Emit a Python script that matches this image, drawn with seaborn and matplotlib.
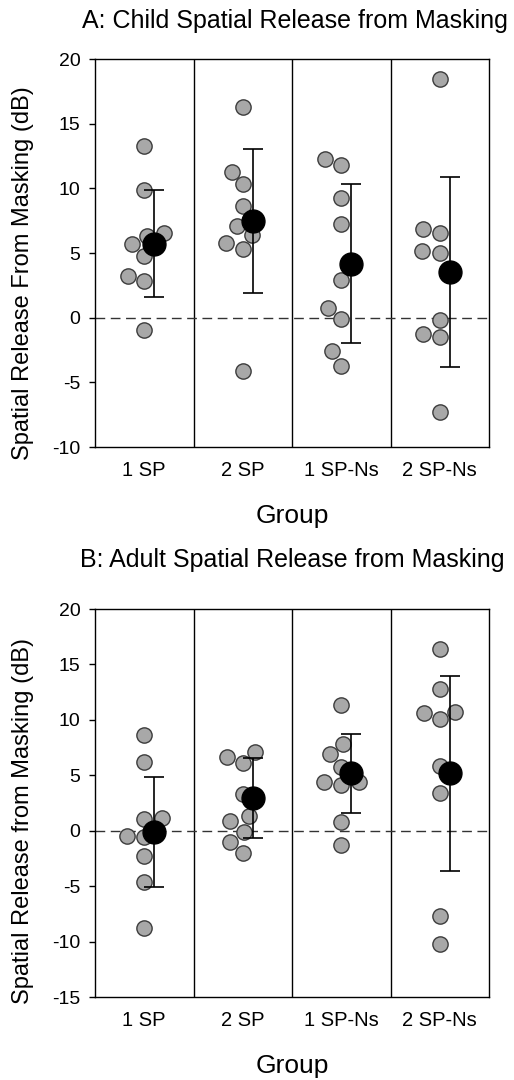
import numpy as np
import pandas as pd
import seaborn as sns
import matplotlib.pyplot as plt

groups = ['1 SP', '2 SP', '1 SP-Ns', '2 SP-Ns']

# Panel A: children, spatial release from masking (dB) per listener
child_1sp = [13.3, 9.9, 6.55, 6.3, 5.7, 4.8, 3.2, 2.8, -0.93]
child_2sp = [16.26, 11.3, 10.3, 8.6, 7.06, 6.4, 5.77, 5.3, -4.1]
child_1spns = [12.27, 11.83, 9.26, 7.24, 2.94, 0.75, -0.1, -2.6, -3.71]
child_2spns = [18.46, 6.88, 6.55, 5.18, 5.0, -0.15, -1.24, -1.52, -7.3]
child_mean = [5.7, 7.45, 4.18, 3.53]
child_sd = [4.14, 5.57, 6.12, 7.33]

# Panel B: adults
adult_1sp = [8.63, 6.22, 1.17, 1.1, -0.48, -0.54, -2.25, -4.6, -8.75]
adult_2sp = [7.13, 6.68, 6.08, 3.31, 1.33, 0.87, -0.09, -0.99, -1.98]
adult_1spns = [11.34, 7.82, 6.89, 5.77, 4.36, 4.36, 4.12, 0.81, -1.29]
adult_2spns = [16.36, 12.75, 10.64, 10.73, 10.05, 5.84, 3.43, -7.7, -10.25]
adult_mean = [-0.09, 2.92, 5.17, 5.17]
adult_sd = [4.96, 3.61, 3.57, 8.82]


def long_df(cols):
    rows = []
    for g, vals in zip(groups, cols):
        for v in vals:
            rows.append({'Group': g, 'SRM': v})
    return pd.DataFrame(rows)


df_child = long_df([child_1sp, child_2sp, child_1spns, child_2spns])
df_adult = long_df([adult_1sp, adult_2sp, adult_1spns, adult_2spns])

sns.set_style('ticks')
plt.rcParams['font.family'] = ['Liberation Sans', 'DejaVu Sans']
plt.rcParams['axes.unicode_minus'] = False
plt.rcParams['text.color'] = 'black'
plt.rcParams['axes.labelcolor'] = 'black'

fig = plt.figure(figsize=(5.14, 10.8), dpi=100)
axA = fig.add_axes([95 / 514, 1 - 447 / 1080, 394 / 514, 388 / 1080])
axB = fig.add_axes([95 / 514, 1 - 997 / 1080, 394 / 514, 388 / 1080])


def panel(ax, df, means, sds, ylabel, ylim, label_y):
    sns.swarmplot(data=df, x='Group', y='SRM', order=groups, ax=ax,
                  size=11, color='#a8a8a8', edgecolor='#3c3c3c',
                  linewidth=1, zorder=2, warn_thresh=1)
    ax.errorbar(np.arange(len(groups)) + 0.1, means, yerr=sds, fmt='o',
                color='black', ms=16.5, capsize=7, elinewidth=1.2,
                capthick=1.2, zorder=4)
    for xv in [0.5, 1.5, 2.5]:
        ax.axvline(xv, color='black', lw=1, zorder=1)
    ax.axhline(0, color='#333333', lw=1, dashes=(7, 4), zorder=1)
    ax.set_xlim(-0.5, 3.5)
    ax.set_ylim(*ylim)
    ax.set_yticks(np.arange(ylim[0], ylim[1] + 1, 5))
    for s in ax.spines.values():
        s.set_visible(True)
        s.set_color('black')
        s.set_linewidth(1)
    ax.tick_params(axis='y', direction='out', length=4.5, width=1,
                   labelsize=14, pad=6, colors='black')
    ax.tick_params(axis='x', length=0, labelsize=14.5, pad=10,
                   colors='black')
    ax.set_xlabel('Group', fontsize=19, labelpad=17)
    ax.set_ylabel(ylabel, fontsize=17)
    ax.yaxis.set_label_coords(-0.155, label_y)


panel(axA, df_child, child_mean, child_sd,
      'Spatial Release From Masking (dB)', (-10, 20), 0.448)
panel(axB, df_adult, adult_mean, adult_sd,
      'Spatial Release from Masking (dB)', (-15, 20), 0.454)

fig.text(295 / 514, 1 - 21 / 1080, 'A: Child Spatial Release from Masking',
         ha='center', va='center', fontsize=18)
fig.text(292 / 514, 1 - 560 / 1080, 'B: Adult Spatial Release from Masking',
         ha='center', va='center', fontsize=18)

fig.savefig('out.png', dpi=100, facecolor='white')
